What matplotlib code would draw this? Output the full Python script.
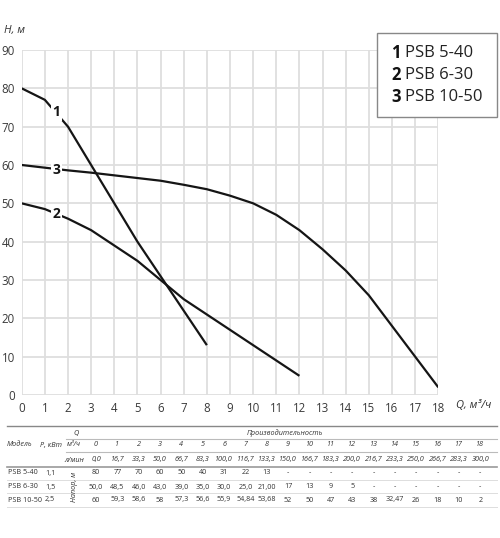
import matplotlib
matplotlib.use("Agg")
import matplotlib.pyplot as plt
from matplotlib.lines import Line2D
from matplotlib.patches import Rectangle

plt.rcParams['font.family'] = ['Open Sans', 'Noto Sans', 'DejaVu Sans']

# ---------------- data ----------------
q_m3h = list(range(0, 19))
q_lmin = ["0,0", "16,7", "33,3", "50,0", "66,7", "83,3", "100,0", "116,7", "133,3", "150,0",
          "166,7", "183,3", "200,0", "216,7", "233,3", "250,0", "266,7", "283,3", "300,0"]

models = ["PSB 5-40", "PSB 6-30", "PSB 10-50"]
powers = ["1,1", "1,5", "2,5"]

h_5_40 = [80, 77, 70, 60, 50, 40, 31, 22, 13]
h_6_30 = [50.0, 48.5, 46.0, 43.0, 39.0, 35.0, 30.0, 25.0, 21.0, 17, 13, 9, 5]
h_10_50 = [60, 59.3, 58.6, 58, 57.3, 56.6, 55.9, 54.84, 53.68, 52, 50, 47, 43, 38, 32.47, 26, 18, 10, 2]

tbl_5_40 = ["80", "77", "70", "60", "50", "40", "31", "22", "13"] + ["-"] * 10
tbl_6_30 = ["50,0", "48,5", "46,0", "43,0", "39,0", "35,0", "30,0", "25,0", "21,00", "17", "13", "9", "5"] + ["-"] * 6
tbl_10_50 = ["60", "59,3", "58,6", "58", "57,3", "56,6", "55,9", "54,84", "53,68", "52", "50", "47", "43",
             "38", "32,47", "26", "18", "10", "2"]

curve_labels = ["1", "2", "3"]
x_ticks = list(range(0, 19))
y_ticks = list(range(0, 91, 10))

# ---------------- figure ----------------
W, H = 500, 538
fig = plt.figure(figsize=(W / 100, H / 100), dpi=100)

def fx(px):
    return px / W

def fy(py):
    return 1 - py / H

ax = fig.add_axes([fx(21.7), fy(395), fx(438.3) - fx(21.7), fy(50) - fy(395)])
ax.set_xlim(0, 18)
ax.set_ylim(0, 90)
ax.set_xticks(x_ticks)
ax.set_yticks(y_ticks)
ax.grid(True, color='#dedede', linewidth=1.3)
ax.set_axisbelow(True)
for s in ax.spines.values():
    s.set_visible(False)
ax.tick_params(length=0, labelsize=8.3, labelcolor='#3a3a3a')
ax.tick_params(axis='x', pad=5)
ax.tick_params(axis='y', pad=5)

lc = '#151515'
ax.plot(q_m3h[:len(h_5_40)], h_5_40, color=lc, lw=1.6, solid_capstyle='butt', solid_joinstyle='round', zorder=3)
ax.plot(q_m3h[:len(h_6_30)], h_6_30, color=lc, lw=1.6, solid_capstyle='butt', solid_joinstyle='round', zorder=3)
ax.plot(q_m3h[:len(h_10_50)], h_10_50, color=lc, lw=1.6, solid_capstyle='butt', solid_joinstyle='round', zorder=3)

label_pos = [(1.5, 73.8), (1.5, 47.3), (1.5, 58.8)]
for lab, (xx, yy) in zip(curve_labels, label_pos):
    ax.text(xx, yy, lab, ha='center', va='center', fontsize=10, fontweight='bold', color=lc,
            zorder=4, bbox=dict(boxstyle='square,pad=0.12', fc='white', ec='none'))

fig.text(fx(4), fy(31), "H, м", fontsize=8, style='italic', color='#333333', ha='left', va='center')
fig.text(fx(456), fy(406), "Q, м³/ч", fontsize=8, style='italic', color='#333333', ha='left', va='center')

# legend box
fig.patches.append(Rectangle((fx(377), fy(117)), fx(497) - fx(377), fy(33) - fy(117),
                             transform=fig.transFigure, fc='white', ec='#888888', lw=1))
for i, (num, m) in enumerate(zip(curve_labels, models)):
    yy = fy(53 + 22 * i)
    fig.text(fx(391), yy, num, fontsize=12, fontweight='bold', color='#111111', ha='left', va='center')
    fig.text(fx(405), yy, m, fontsize=12, color='#222222', ha='left', va='center')

# ---------------- table ----------------
def hline(py, x0, x1, color='#cccccc', lw=0.8):
    fig.add_artist(Line2D([fx(x0), fx(x1)], [fy(py), fy(py)], transform=fig.transFigure,
                          color=color, lw=lw))

hline(426, 7, 497, color='#888888', lw=1.0)
hline(439, 66, 497, color='#bbbbbb', lw=0.8)
hline(452, 66, 497, color='#bbbbbb', lw=0.8)
hline(467, 7, 497, color='#999999', lw=1.2)
hline(480, 7, 497, color='#dddddd', lw=0.7)
hline(493, 7, 497, color='#dddddd', lw=0.7)
hline(507, 7, 497, color='#dddddd', lw=0.7)

tfs = 5.2
tc = '#333333'
fig.text(fx(76), fy(433), "Q", fontsize=tfs, style='italic', color=tc, ha='center', va='center')
fig.text(fx(285), fy(433), "Производительность", fontsize=tfs, style='italic', color=tc, ha='center', va='center')
fig.text(fx(20), fy(445), "Модель", fontsize=tfs, style='italic', color=tc, ha='center', va='center')
fig.text(fx(51), fy(445), "P, кВт", fontsize=tfs, style='italic', color=tc, ha='center', va='center')
fig.text(fx(74), fy(445), "м³/ч", fontsize=tfs, style='italic', color=tc, ha='center', va='center')
fig.text(fx(74), fy(460), "л/мин", fontsize=tfs, style='italic', color=tc, ha='center', va='center')
fig.text(fx(75), fy(487), "Напор, м", fontsize=tfs, style='italic', color=tc, ha='center', va='center',
         rotation=90)

col_x0, col_dx = 96, 21.35
for i, q in enumerate(q_m3h):
    cx = fx(col_x0 + col_dx * i)
    fig.text(cx, fy(445), str(q), fontsize=tfs, style='italic', color=tc, ha='center', va='center')
    fig.text(cx, fy(460), q_lmin[i], fontsize=tfs, style='italic', color=tc, ha='center', va='center')

rows_y = [473, 487, 500]
for ry, m, p, vals in zip(rows_y, models, powers, [tbl_5_40, tbl_6_30, tbl_10_50]):
    fig.text(fx(8), fy(ry), m, fontsize=tfs, color=tc, ha='left', va='center')
    fig.text(fx(45), fy(ry), p, fontsize=tfs, color=tc, ha='left', va='center')
    for i, v in enumerate(vals):
        fig.text(fx(col_x0 + col_dx * i), fy(ry), v, fontsize=tfs, color=tc, ha='center', va='center')

fig.savefig("out.png", dpi=100, facecolor='white')
